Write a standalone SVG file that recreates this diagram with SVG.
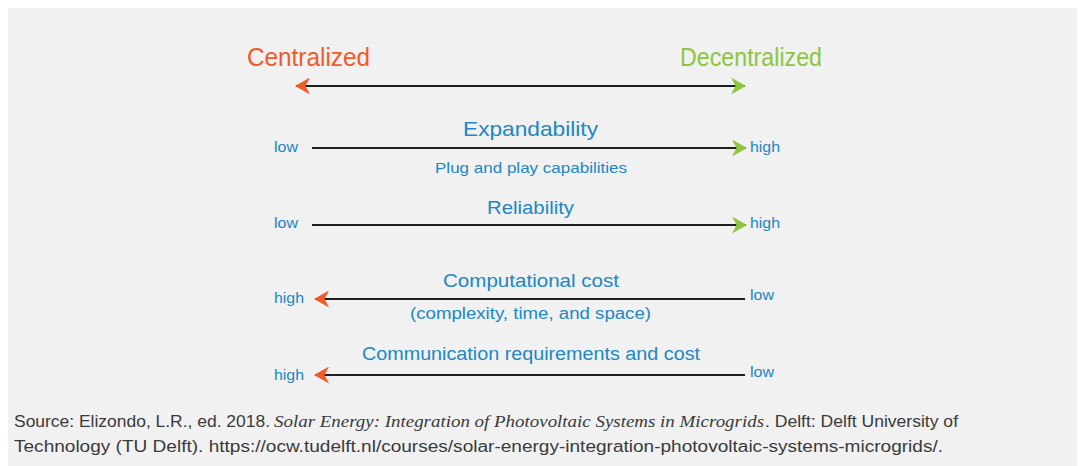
<svg xmlns="http://www.w3.org/2000/svg" width="1078" height="466" viewBox="0 0 1078 466">
<style>
.lbl{font-family:"Liberation Sans",Arial,sans-serif;fill:#2287c2}
.end{font-family:"Liberation Sans",Arial,sans-serif;fill:#2287c2;font-size:15px}
.src{font-family:"Liberation Sans",Arial,sans-serif;fill:#3a3a3a;font-size:16px}
.it{font-family:"Liberation Serif","Times New Roman",serif;font-style:italic}
.ln{stroke:#1e1e1e;stroke-width:2;fill:none}
</style>
<defs>
<marker id="gr" viewBox="0 0 15 17" refX="14" refY="8.5" markerWidth="15" markerHeight="17" markerUnits="userSpaceOnUse" orient="auto"><path d="M0,0 L15,8.5 L0,17 L4.5,8.5 Z" fill="#8cc63f"/></marker>
<marker id="or" viewBox="0 0 15 17" refX="14" refY="8.5" markerWidth="15" markerHeight="17" markerUnits="userSpaceOnUse" orient="auto-start-reverse"><path d="M0,0 L15,8.5 L0,17 L4.5,8.5 Z" fill="#f15a29"/></marker>
</defs>
<rect x="8" y="8" width="1069" height="458" fill="#f0f1f0"/>
<g id="connectors">
<path class="ln" d="M296,86 L745,86" marker-start="url(#or)" marker-end="url(#gr)"/>
<path class="ln" d="M312,148 L746,148" marker-end="url(#gr)"/>
<path class="ln" d="M312,225 L746,225" marker-end="url(#gr)"/>
<path class="ln" d="M745,299 L315,299" marker-end="url(#or)"/>
<path class="ln" d="M745,375 L315,375" marker-end="url(#or)"/>
</g>
<g id="header">
<text x="247" y="66" font-family="Liberation Sans, Arial, sans-serif" font-size="25" fill="#f15a29" textLength="123" lengthAdjust="spacingAndGlyphs">Centralized</text>
<text x="680" y="66" font-family="Liberation Sans, Arial, sans-serif" font-size="25" fill="#8cc63f" textLength="142" lengthAdjust="spacingAndGlyphs">Decentralized</text>
</g>
<g id="expandability">
<text class="end" x="274" y="152" textLength="24" lengthAdjust="spacingAndGlyphs">low</text>
<text class="lbl" x="463" y="136" font-size="21" textLength="135" lengthAdjust="spacingAndGlyphs">Expandability</text>
<text class="lbl" x="435" y="173" font-size="15" textLength="192" lengthAdjust="spacingAndGlyphs">Plug and play capabilities</text>
<text class="end" x="750" y="152" textLength="30" lengthAdjust="spacingAndGlyphs">high</text>
</g>
<g id="reliability">
<text class="end" x="274" y="228" textLength="24" lengthAdjust="spacingAndGlyphs">low</text>
<text class="lbl" x="487" y="214" font-size="18" textLength="87" lengthAdjust="spacingAndGlyphs">Reliability</text>
<text class="end" x="750" y="228" textLength="30" lengthAdjust="spacingAndGlyphs">high</text>
</g>
<g id="computational">
<text class="end" x="274" y="303" textLength="30" lengthAdjust="spacingAndGlyphs">high</text>
<text class="lbl" x="443" y="287" font-size="19" textLength="176" lengthAdjust="spacingAndGlyphs">Computational cost</text>
<text class="lbl" x="410" y="319" font-size="16" textLength="241" lengthAdjust="spacingAndGlyphs">(complexity, time, and space)</text>
<text class="end" x="750" y="300" textLength="24" lengthAdjust="spacingAndGlyphs">low</text>
</g>
<g id="communication">
<text class="end" x="274" y="380" textLength="30" lengthAdjust="spacingAndGlyphs">high</text>
<text class="lbl" x="362" y="360" font-size="18" textLength="338" lengthAdjust="spacingAndGlyphs">Communication requirements and cost</text>
<text class="end" x="750" y="377" textLength="24" lengthAdjust="spacingAndGlyphs">low</text>
</g>
<g id="source">
<text class="src" y="427"><tspan x="14" textLength="256" lengthAdjust="spacingAndGlyphs">Source: Elizondo, L.R., ed. 2018.</tspan><tspan class="it" x="274" textLength="490" lengthAdjust="spacingAndGlyphs">Solar Energy: Integration of Photovoltaic Systems in Microgrids</tspan><tspan x="765" textLength="193" lengthAdjust="spacingAndGlyphs">. Delft: Delft University of</tspan></text>
<text class="src" x="14" y="452" textLength="929" lengthAdjust="spacingAndGlyphs">Technology (TU Delft). https://ocw.tudelft.nl/courses/solar-energy-integration-photovoltaic-systems-microgrids/.</text>
</g>
</svg>
